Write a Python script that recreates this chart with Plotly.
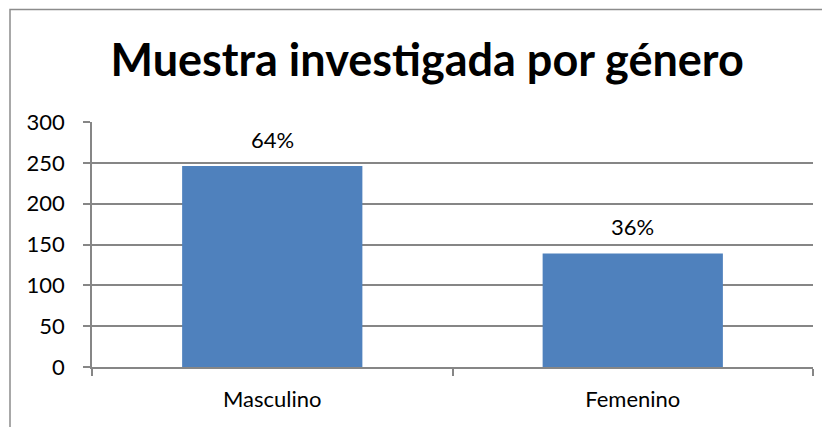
import plotly.graph_objects as go

categories = ["Masculino", "Femenino"]
values = [246, 139]
pct_labels = ["64%", "36%"]
y_ticks = [0, 50, 100, 150, 200, 250, 300]

# the page body adds an 8px offset; figure is sized to fill the window
W, H = 822, 419
L, R, T, B = 84, 17, 114, 60
pw, ph = W - L - R, H - T - B

font = "Lato, 'Open Sans', sans-serif"

fig = go.Figure()
fig.add_trace(go.Bar(
    x=categories, y=values, width=0.5,
    marker=dict(color="#4F81BD", line=dict(width=0)),
    showlegend=False, hoverinfo="skip",
))

for c, v, t in zip(categories, values, pct_labels):
    fig.add_annotation(x=c, y=v, text=t, showarrow=False, yanchor="bottom",
                       yshift=11, font=dict(size=22, color="#000000", family=font))


def px_to_paper_x(px):
    return (px - L) / pw


def px_to_paper_y(py):
    return (H - B - py) / ph


# outer chart border (cropped at right and bottom)
fig.add_shape(type="rect", xref="paper", yref="paper",
              x0=px_to_paper_x(2), x1=px_to_paper_x(900),
              y0=px_to_paper_y(500), y1=px_to_paper_y(1.5),
              line=dict(color="#8C8C8C", width=1.5), fillcolor="rgba(0,0,0,0)", layer="below")

fig.update_layout(
    width=W, height=H,
    margin=dict(l=L, r=R, t=T, b=B),
    paper_bgcolor="white", plot_bgcolor="white",
    title=dict(text="<b>Muestra investigada por género</b>", x=0.51, xanchor="center",
               y=1 - 52 / H, yanchor="middle",
               font=dict(size=45, color="#000000", family=font)),
    font=dict(family=font, color="#000000", size=22),
)
fig.update_xaxes(
    type="category", showline=True, linecolor="#868686", linewidth=1.5,
    ticks="outside", tickson="boundaries", ticklen=7, tickcolor="#868686", tickwidth=1.5,
    showgrid=False, tickfont=dict(size=22, family=font), ticklabelstandoff=12,
)
fig.update_yaxes(
    range=[0, 300], tickvals=y_ticks, showline=True, linecolor="#868686", linewidth=1.5,
    ticks="outside", ticklen=7, tickcolor="#868686", tickwidth=1.5,
    showgrid=True, gridcolor="#868686", gridwidth=1.5, zeroline=False,
    tickfont=dict(size=22, family=font), ticklabelstandoff=14,
)

fig.write_html("out.html")
